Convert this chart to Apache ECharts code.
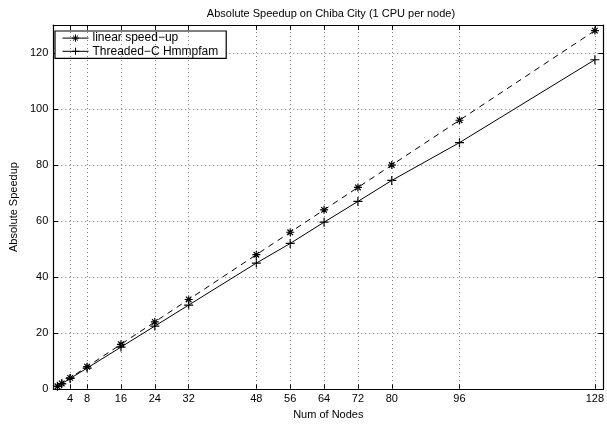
<!DOCTYPE html>
<html>
<head>
<meta charset="utf-8">
<script src="https://cdn.jsdelivr.net/npm/echarts@6/dist/echarts.min.js"></script>
<style>
  html, body { margin: 0; padding: 0; background: #fff; }
  #chart { width: 607px; height: 425px; }
</style>
</head>
<body>
<div id="chart"></div>
<script>
// data
var nodes = [1, 2, 4, 8, 16, 24, 32, 48, 56, 64, 72, 80, 96, 128];
var linearSpeedup = [1, 2, 4, 8, 16, 24, 32, 48, 56, 64, 72, 80, 96, 128];
var threadedSpeedup = [1, 1.9, 3.8, 7.5, 15, 22.5, 30, 45, 52, 59.6, 67, 74.5, 88, 117.6];
var xTicks = [4, 8, 16, 24, 32, 48, 56, 64, 72, 80, 96, 128];
var yTicks = [0, 20, 40, 60, 80, 100, 120];

var starPath = "path://M0,5L10,5M5,0L5,10M1.5,1.5L8.5,8.5M1.5,8.5L8.5,1.5";
var plusPath = "path://M0,5L10,5M5,0L5,10";

function pairs(xs, ys) {
  return xs.map(function (x, i) { return [x, ys[i]]; });
}

var chart = echarts.init(document.getElementById("chart"));
var fontFam = "Liberation Sans, Arial, sans-serif";
var gridDot = { color: "#555", width: 0.8, type: [1, 3] };
var boxLine = { color: "#000", width: 1.2 };

var option = {
  animation: false,
  backgroundColor: "#fff",
  textStyle: { fontFamily: fontFam },
  title: {
    text: "Absolute Speedup on Chiba City (1 CPU per node)",
    left: 326,
    textAlign: "center",
    top: 3,
    textStyle: { fontSize: 11, fontWeight: "normal", color: "#000", fontFamily: fontFam },
  },
  legend: {
    orient: "vertical",
    left: 55,
    top: 31,
    padding: [1, 8, 1, 7],
    itemGap: 1,
    itemWidth: 26,
    itemHeight: 9,
    borderColor: "#000",
    borderWidth: 1.2,
    backgroundColor: "#fff",
    itemStyle: { color: "none", borderColor: "#000", borderWidth: 1 },
    lineStyle: { type: "solid", width: 1 },
    textStyle: { fontSize: 12, color: "#000", fontFamily: fontFam, padding: [0, 0, 0, -1] },
    data: ["linear speed\u2212up", "Threaded\u2212C Hmmpfam"],
  },
  grid: { left: 49, right: 3, top: 25, bottom: 33, containLabel: false },
  xAxis: [
    {
      type: "value",
      min: 0,
      max: 130,
      name: "Num of Nodes",
      nameLocation: "middle",
      nameGap: 16,
      nameTextStyle: { fontSize: 11, color: "#000" },
      axisLine: { onZero: false, lineStyle: boxLine },
      axisTick: { inside: true, length: 5, customValues: xTicks, lineStyle: { color: "#000" } },
      axisLabel: { customValues: xTicks, fontSize: 11, color: "#000", margin: 4 },
      splitLine: { show: false },
    },
    {
      type: "value",
      position: "top",
      min: 0,
      max: 130,
      axisLine: { show: true, onZero: false, lineStyle: boxLine },
      axisTick: { show: true, inside: true, length: 5, customValues: xTicks, lineStyle: { color: "#000" } },
      axisLabel: { show: false },
      splitLine: { show: false },
    },
  ],
  yAxis: [
    {
      type: "value",
      min: 0,
      max: 130,
      interval: 20,
      name: "Absolute Speedup",
      nameLocation: "middle",
      nameGap: 30,
      nameTextStyle: { fontSize: 11, color: "#000" },
      axisLine: { onZero: false, lineStyle: boxLine },
      axisTick: { inside: true, length: 5, customValues: yTicks, lineStyle: { color: "#000" } },
      axisLabel: { customValues: yTicks, fontSize: 11, color: "#000", margin: 5 },
      splitLine: { show: true, lineStyle: gridDot },
    },
    {
      type: "value",
      position: "right",
      min: 0,
      max: 130,
      interval: 20,
      axisLine: { show: true, onZero: false, lineStyle: boxLine },
      axisTick: { show: true, inside: true, length: 5, customValues: yTicks, lineStyle: { color: "#000" } },
      axisLabel: { show: false },
      splitLine: { show: false },
    },
  ],
  series: [
    {
      name: "linear speed\u2212up",
      type: "line",
      data: pairs(nodes, linearSpeedup),
      symbol: starPath,
      symbolSize: 8,
      showAllSymbol: true,
      lineStyle: { color: "#000", width: 1, type: [6, 5] },
      itemStyle: { color: "none", borderColor: "#000", borderWidth: 1.2 },
      markLine: {
        silent: true,
        symbol: "none",
        label: { show: false },
        lineStyle: gridDot,
        data: xTicks.map(function (v) { return { xAxis: v }; }),
      },
      z: 3,
    },
    {
      name: "Threaded\u2212C Hmmpfam",
      type: "line",
      data: pairs(nodes, threadedSpeedup),
      symbol: plusPath,
      symbolSize: 9,
      showAllSymbol: true,
      lineStyle: { color: "#000", width: 1 },
      itemStyle: { color: "none", borderColor: "#000", borderWidth: 1.2 },
      z: 3,
    },
  ],
};
chart.setOption(option);
</script>
</body>
</html>
